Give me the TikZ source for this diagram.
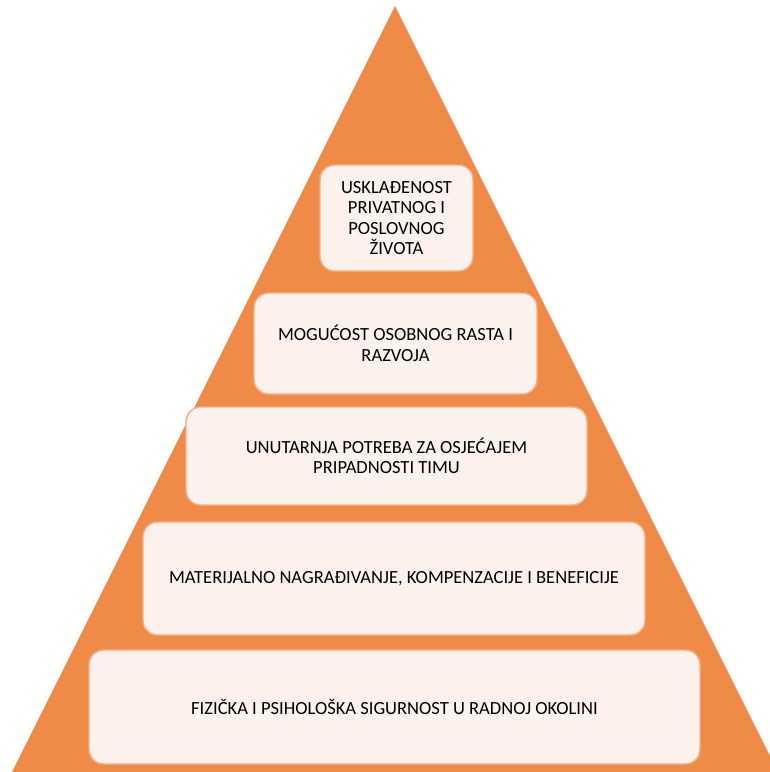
\documentclass[tikz,border=0pt]{standalone}
\usepackage{fontspec}
\setmainfont{Carlito}
\usepackage{xcolor}
\usepackage{tikz}
\definecolor{pyramidorange}{HTML}{EF8B47}
\definecolor{boxfill}{HTML}{FCF1EC}
\definecolor{boxline}{HTML}{F5B185}

\begin{document}
\begin{tikzpicture}[
    x=0.75pt, y=-0.75pt,
    pyramid/.style={fill=pyramidorange},
    level/.style={rectangle,draw=boxline,fill=boxfill,line width=1.1pt,
                  rounded corners=11pt,align=center,inner sep=0pt,
                  font=\fontsize{13.9}{15.3}\selectfont}
]

% frame
\useasboundingbox (0,0) rectangle (770,772);
\clip (0,0) rectangle (770,772);

% pyramid
\coordinate (apex)  at (395,6);
\coordinate (right) at (778,772);
\coordinate (left)  at (12,772);
\fill[pyramid] (apex) -- (right) -- (left) -- cycle;

% levels
\node[level, minimum width=153*0.75pt, minimum height=106*0.75pt]
  (balance) at (396.5,218) {USKLAĐENOST\\PRIVATNOG I\\POSLOVNOG\\ŽIVOTA};
\node[level, minimum width=283*0.75pt, minimum height=101*0.75pt]
  (growth) at (395.5,343.5) {MOGUĆOST OSOBNOG RASTA I\\RAZVOJA};
\node[level, minimum width=401*0.75pt, minimum height=98*0.75pt]
  (belong) at (386.5,456) {UNUTARNJA POTREBA ZA OSJEĆAJEM\\PRIPADNOSTI TIMU};
\node[level, minimum width=502*0.75pt, minimum height=113*0.75pt]
  (reward) at (394,578.5) {MATERIJALNO NAGRAĐIVANJE, KOMPENZACIJE I BENEFICIJE};
\node[level, minimum width=611*0.75pt, minimum height=114*0.75pt]
  (safety) at (394.5,707) {FIZIČKA I PSIHOLOŠKA SIGURNOST U RADNOJ OKOLINI};

\end{tikzpicture}
\end{document}
